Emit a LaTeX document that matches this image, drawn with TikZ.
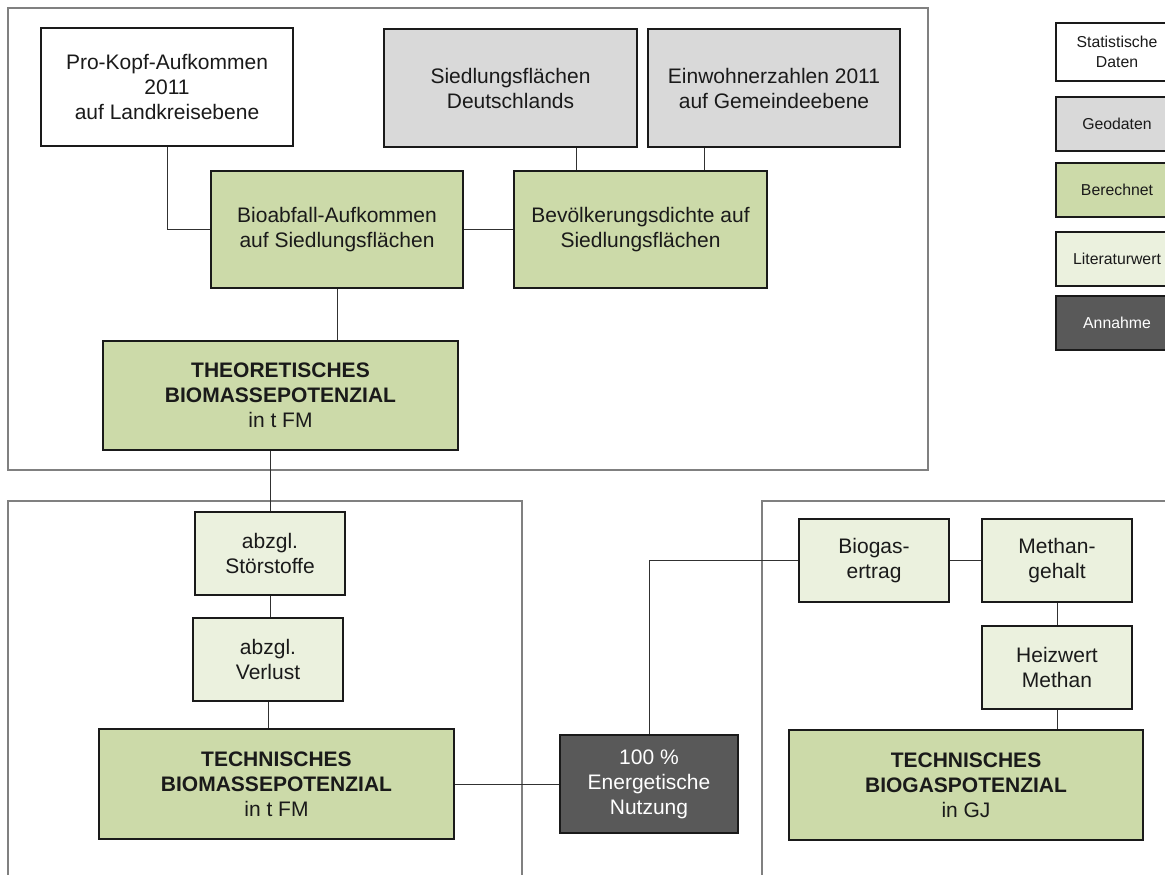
\documentclass[tikz,border=0pt]{standalone}
\usepackage{fontspec}
\setmainfont{Liberation Sans}
\usetikzlibrary{calc}
\definecolor{geo}{RGB}{217,217,217}
\definecolor{calcgreen}{RGB}{204,218,169}
\definecolor{lit}{RGB}{235,241,222}
\definecolor{assume}{RGB}{89,89,89}
\definecolor{framegray}{RGB}{128,128,128}
\definecolor{ink}{RGB}{26,26,26}
\tikzset{
  box/.style={draw=ink, line width=1.5pt, inner sep=0pt, align=center, text=ink,
    font=\fontsize{21}{25}\selectfont},
  statbox/.style={box, fill=white},
  geobox/.style={box, fill=geo},
  calcbox/.style={box, fill=calcgreen},
  litbox/.style={box, fill=lit},
  assumebox/.style={box, fill=assume, text=white},
  legbox/.style={font=\fontsize{15.8}{20}\selectfont, minimum width=122pt},
  frame/.style={draw=framegray, line width=2.3pt},
  conn/.style={draw=ink!90, line width=0.9pt},
}
\begin{document}
\begin{tikzpicture}[x=1pt,y=-1pt]
\clip (0,0) rectangle (1165,875);
\fill[white] (0,0) rectangle (1165,875);
% frames
\draw[frame] (8,8) rectangle (928,470);
\draw[frame] (8,890) -- (8,501) -- (522,501) -- (522,890);
\draw[frame] (762,890) -- (762,501) -- (1180,501);
% top group
\node[statbox, minimum width=252pt, minimum height=118pt] (pro) at (167,87) {Pro-Kopf-Aufkommen\\2011\\auf Landkreisebene};
\node[geobox, minimum width=253pt, minimum height=118pt] (sied) at (510.5,88) {Siedlungsflächen\\Deutschlands};
\node[geobox, minimum width=252pt, minimum height=118pt] (einw) at (774,88) {Einwohnerzahlen 2011\\auf Gemeindeebene};
\node[calcbox, minimum width=252pt, minimum height=117pt] (bio) at (337,229.5) {Bioabfall-Aufkommen\\auf Siedlungsflächen};
\node[calcbox, minimum width=253pt, minimum height=117pt] (bev) at (640.5,229.5) {Bevölkerungsdichte auf\\Siedlungsflächen};
\node[calcbox, minimum width=355pt, minimum height=109pt] (theo) at (280.5,395.5) {\textbf{THEORETISCHES}\\\textbf{BIOMASSEPOTENZIAL}\\in t FM};
% lower left group
\node[litbox, minimum width=150pt, minimum height=83pt] (stoer) at (270,553.5) {abzgl.\\Störstoffe};
\node[litbox, minimum width=150pt, minimum height=83pt] (verl) at (268,659.5) {abzgl.\\Verlust};
\node[calcbox, minimum width=355pt, minimum height=110pt] (tb) at (276.5,784) {\textbf{TECHNISCHES}\\\textbf{BIOMASSEPOTENZIAL}\\in t FM};
\node[assumebox, minimum width=178pt, minimum height=98pt] (nutz) at (649,784) {100 \%\\Energetische\\Nutzung};
% lower right group
\node[litbox, minimum width=150pt, minimum height=83pt] (biogas) at (874,560.5) {Biogas-\\ertrag};
\node[litbox, minimum width=150pt, minimum height=83pt] (meth) at (1057,560.5) {Methan-\\gehalt};
\node[litbox, minimum width=150pt, minimum height=83pt] (heiz) at (1057,667.5) {Heizwert\\Methan};
\node[calcbox, minimum width=354pt, minimum height=110pt] (tbg) at (966,785) {\textbf{TECHNISCHES}\\\textbf{BIOGASPOTENZIAL}\\in GJ};
% legend
\node[statbox, legbox, minimum height=58pt] (l1) at (1117,52) {Statistische\\Daten};
\node[geobox, legbox, minimum height=54pt] (l2) at (1117,124) {Geodaten};
\node[calcbox, legbox, minimum height=54pt] (l3) at (1117,190) {Berechnet};
\node[litbox, legbox, minimum height=54pt] (l4) at (1117,259) {Literaturwert};
\node[assumebox, legbox, minimum height=54pt] (l5) at (1117,323) {Annahme};
% connectors
\coordinate (bevq1) at ($(bev.north west)!0.25!(bev.north east)$);
\coordinate (bevq3) at ($(bev.north west)!0.75!(bev.north east)$);
\draw[conn] (sied.south -| bevq1) -- (bevq1);
\draw[conn] (einw.south -| bevq3) -- (bevq3);
\draw[conn] (pro.south) |- (bio.west);
\draw[conn] (bio.east) -- (bev.west);
\draw[conn] (bio.south) -- (bio.south |- theo.north);
\draw[conn] (stoer.north) -- (stoer.north |- theo.south);
\draw[conn] (stoer.south) -- (stoer.south |- verl.north);
\draw[conn] (verl.south) -- (verl.south |- tb.north);
\draw[conn] (tb.east) -- (nutz.west);
\draw[conn] (nutz.north) |- (biogas.west);
\draw[conn] (biogas.east) -- (meth.west);
\draw[conn] (meth.south) -- (heiz.north);
\draw[conn] (heiz.south) -- (heiz.south |- tbg.north);
\end{tikzpicture}
\end{document}
